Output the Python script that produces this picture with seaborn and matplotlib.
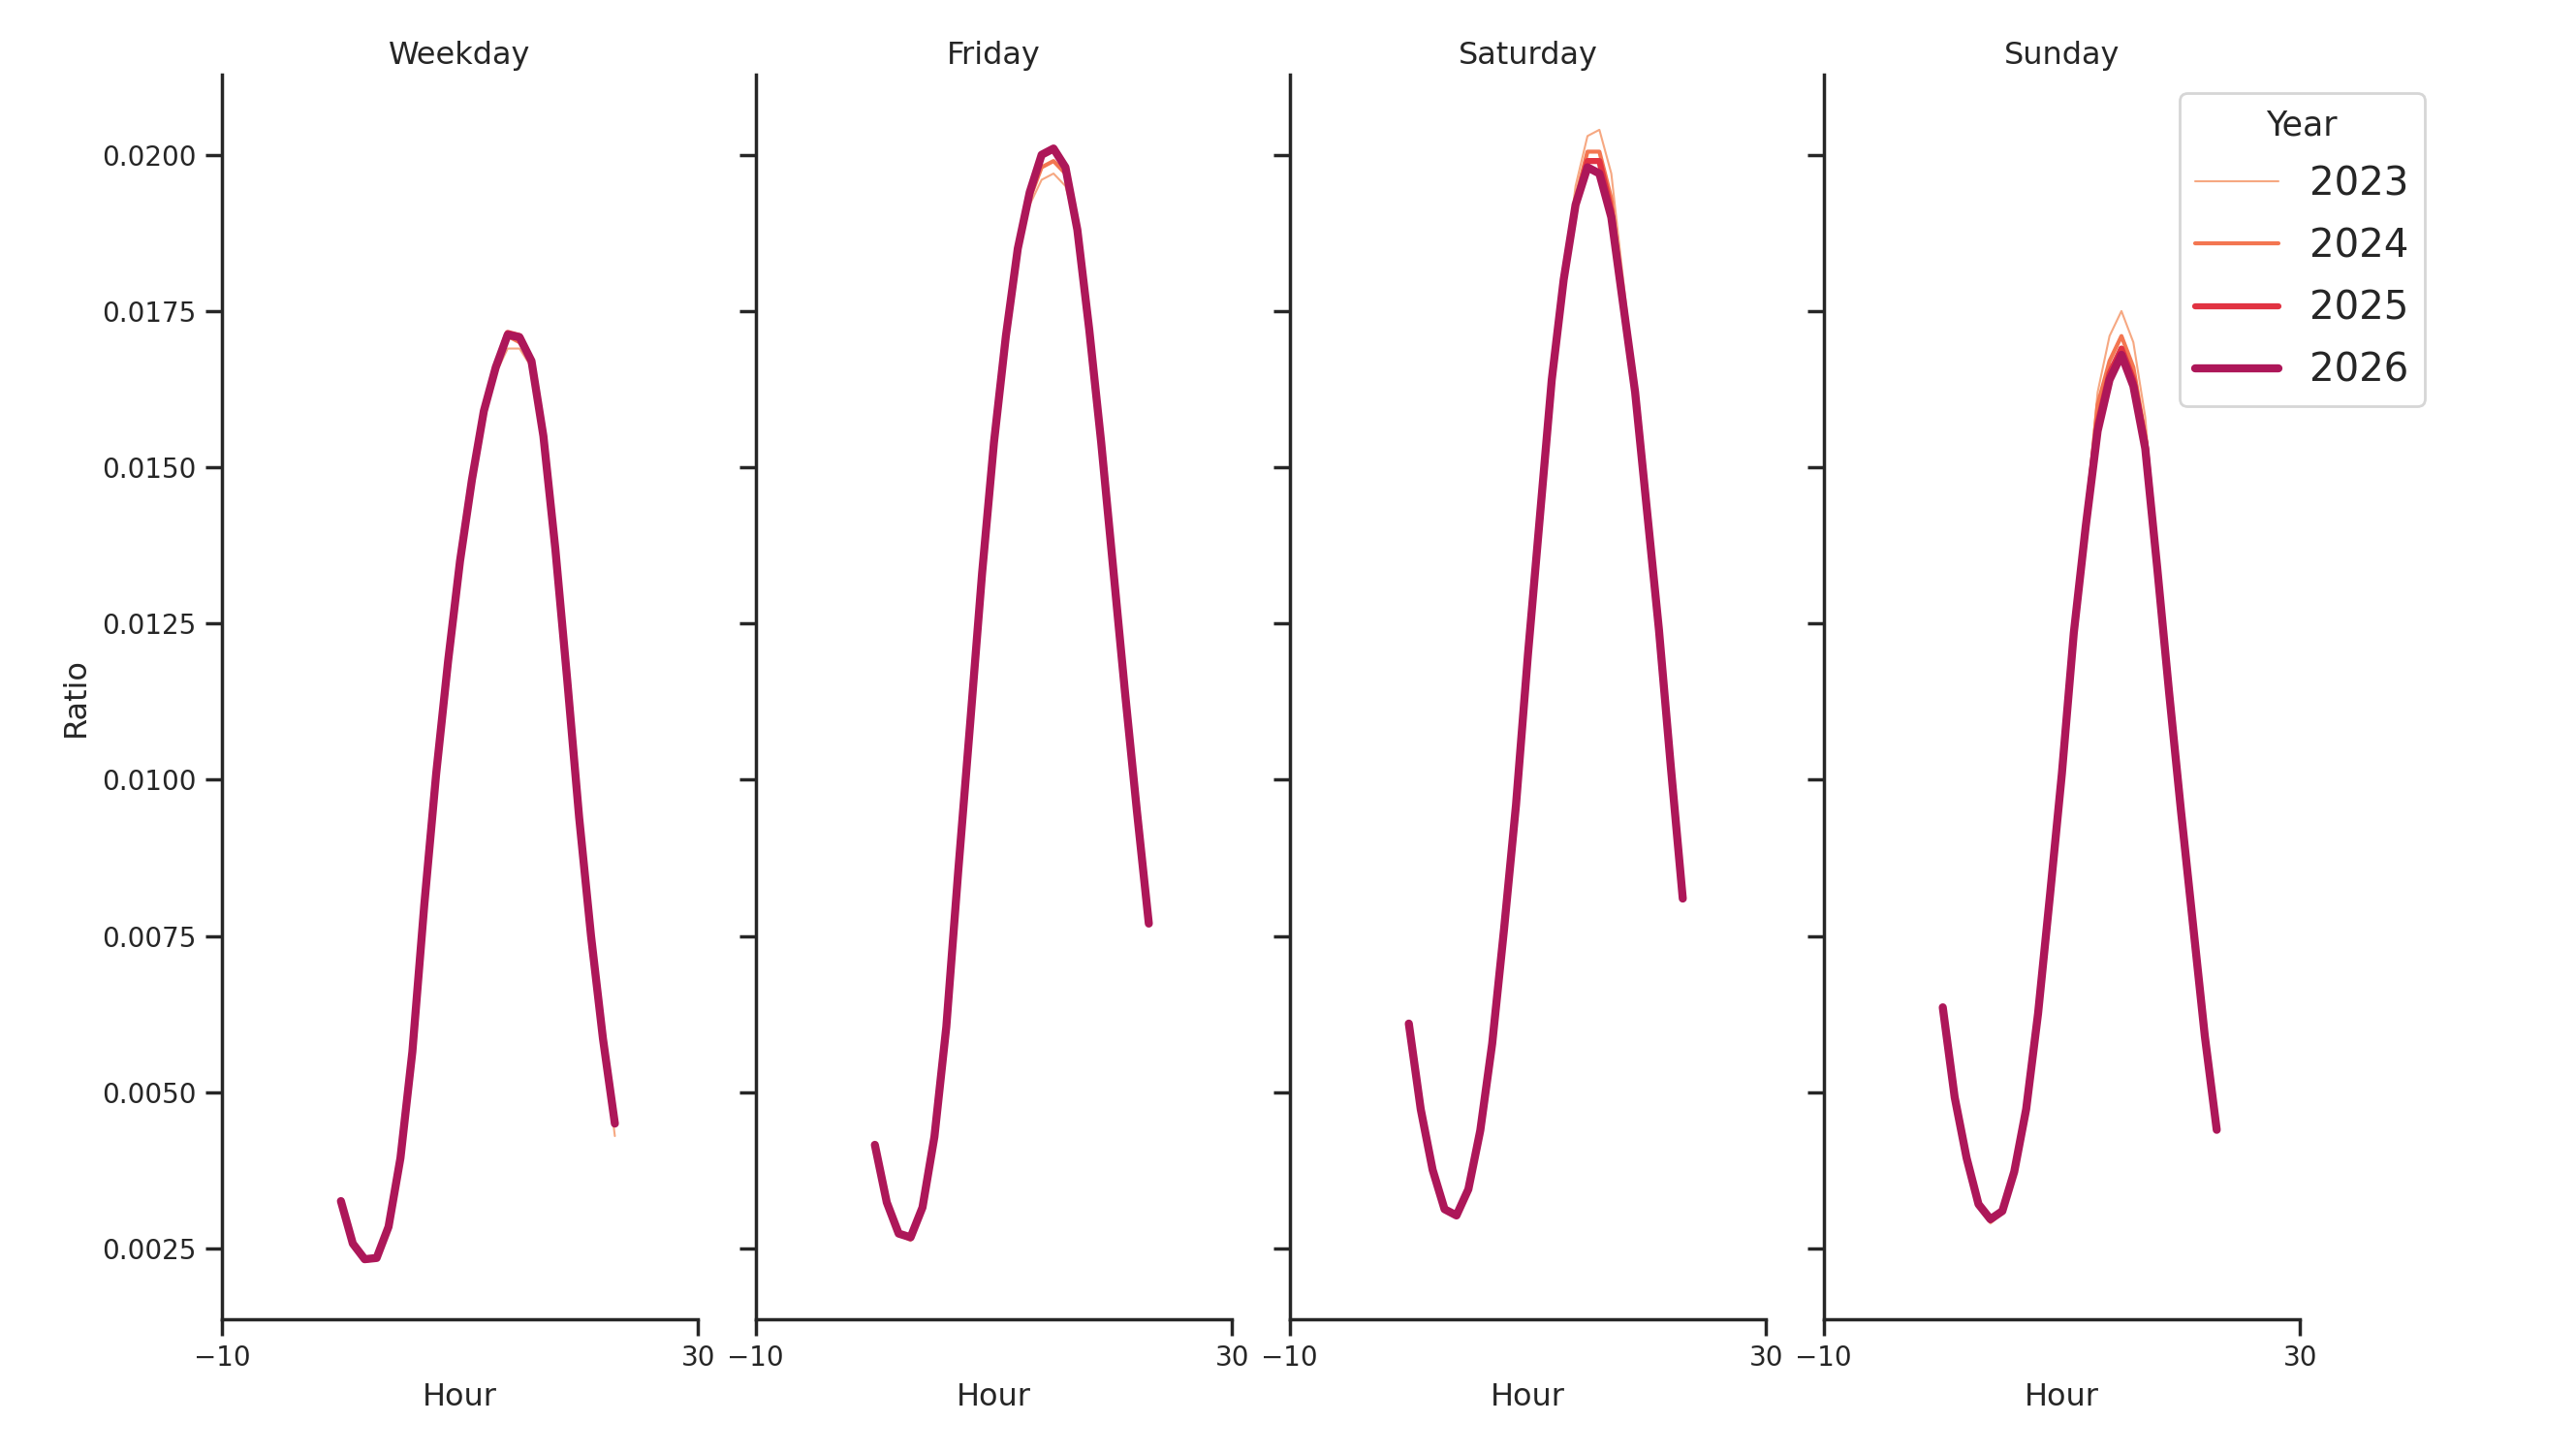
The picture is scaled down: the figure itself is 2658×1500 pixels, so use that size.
import pandas as pd
import numpy as np
import matplotlib
matplotlib.use("Agg")
import matplotlib.pyplot as plt
import seaborn as sns

sns.set_theme(style="ticks", context="notebook",
              rc={"xtick.labelsize": 10, "ytick.labelsize": 10,
                  "axes.labelsize": 11.5, "axes.titlesize": 11.5,
                  "axes.titlepad": 3.9})
plt.rcParams["font.family"] = ["DejaVu Sans"]

hours = list(range(24))
days = ["Weekday", "Friday", "Saturday", "Sunday"]
years = ["2023", "2024", "2025", "2026"]

# 每天 / 每年 的小时比例
weekday_2023 = [0.00326, 0.00258, 0.00233, 0.00235, 0.00285, 0.00395, 0.00565, 0.0080, 0.0101, 0.0119, 0.0135, 0.0148,
                0.0159, 0.0165, 0.0169, 0.0169, 0.0166, 0.0155, 0.0137, 0.0116, 0.0094, 0.0075, 0.00584, 0.0043]
weekday_2024 = [0.00326, 0.00258, 0.00233, 0.00235, 0.00285, 0.00395, 0.00565, 0.0080, 0.0101, 0.0119, 0.0135, 0.0148,
                0.0159, 0.0166, 0.0171, 0.0170, 0.0167, 0.0155, 0.0137, 0.0116, 0.0094, 0.0075, 0.00586, 0.0045]
weekday_2025 = [0.00326, 0.00258, 0.00232, 0.00235, 0.00285, 0.00395, 0.00565, 0.0080, 0.0101, 0.0119, 0.0135, 0.0148,
                0.0159, 0.0166, 0.01715, 0.0171, 0.0167, 0.0155, 0.0137, 0.0116, 0.0094, 0.0075, 0.00586, 0.0045]
weekday_2026 = [0.00326, 0.00258, 0.00233, 0.00235, 0.00285, 0.00395, 0.00565, 0.0080, 0.0101, 0.0119, 0.0135, 0.0148,
                0.0159, 0.0166, 0.01712, 0.01708, 0.0167, 0.0155, 0.0137, 0.0116, 0.0094, 0.0075, 0.00586, 0.0045]

friday_2023 = [0.00416, 0.00324, 0.00272, 0.00262, 0.00314, 0.00429, 0.00605, 0.00854, 0.0109, 0.0133, 0.0154, 0.0171,
               0.0185, 0.0192, 0.0196, 0.0197, 0.0195, 0.0188, 0.0172, 0.0154, 0.0134, 0.0114, 0.0095, 0.0077]
friday_2024 = [0.00416, 0.00324, 0.00274, 0.00266, 0.00316, 0.00429, 0.00605, 0.00854, 0.0109, 0.0133, 0.0154, 0.0171,
               0.0185, 0.0193, 0.0198, 0.0199, 0.0197, 0.0188, 0.0172, 0.0154, 0.0134, 0.0114, 0.0095, 0.0077]
friday_2025 = [0.00416, 0.00324, 0.00274, 0.00268, 0.00316, 0.00429, 0.00605, 0.00854, 0.0109, 0.0133, 0.0154, 0.0171,
               0.0185, 0.0194, 0.0200, 0.0201, 0.0198, 0.0188, 0.0172, 0.0154, 0.0134, 0.0114, 0.0095, 0.0077]
friday_2026 = [0.00416, 0.00324, 0.00274, 0.00268, 0.00316, 0.00429, 0.00605, 0.00854, 0.0109, 0.0133, 0.0154, 0.0171,
               0.0185, 0.0194, 0.0200, 0.0201, 0.0198, 0.0188, 0.0172, 0.0154, 0.0134, 0.0114, 0.0095, 0.0077]

saturday_2023 = [0.0061, 0.00473, 0.00376, 0.00313, 0.00303, 0.00345, 0.00439, 0.00578, 0.00762, 0.0096, 0.0120, 0.0142,
                 0.0164, 0.0180, 0.0195, 0.0203, 0.0204, 0.0197, 0.0180, 0.0163, 0.0143, 0.0124, 0.0102, 0.0081]
saturday_2024 = [0.0061, 0.00473, 0.00376, 0.00313, 0.00303, 0.00345, 0.00439, 0.00578, 0.00762, 0.0096, 0.0120, 0.0142,
                 0.0164, 0.0180, 0.0193, 0.02005, 0.02005, 0.0193, 0.0177, 0.0162, 0.0143, 0.0124, 0.0102, 0.0081]
saturday_2025 = [0.0061, 0.00473, 0.00376, 0.00313, 0.00303, 0.00345, 0.00439, 0.00578, 0.00762, 0.0096, 0.0120, 0.0142,
                 0.0164, 0.0180, 0.0192, 0.0199, 0.0199, 0.0191, 0.0176, 0.0162, 0.0143, 0.0124, 0.0102, 0.0081]
saturday_2026 = [0.0061, 0.00473, 0.00376, 0.00313, 0.00303, 0.00345, 0.00439, 0.00578, 0.00762, 0.0096, 0.0120, 0.0142,
                 0.0164, 0.0180, 0.0192, 0.0198, 0.0197, 0.0190, 0.0176, 0.0162, 0.0143, 0.0124, 0.0102, 0.0081]

sunday_2023 = [0.00636, 0.00492, 0.00393, 0.00318, 0.0029, 0.00306, 0.00373, 0.00473, 0.00626, 0.00815, 0.0101, 0.01235,
               0.0142, 0.0162, 0.0171, 0.0175, 0.0170, 0.0158, 0.0135, 0.0114, 0.0095, 0.0077, 0.0059, 0.0044]
sunday_2024 = [0.00636, 0.00492, 0.00395, 0.0032, 0.00294, 0.00308, 0.00373, 0.00473, 0.00626, 0.00815, 0.0101, 0.01235,
               0.0141, 0.0160, 0.0167, 0.0171, 0.0166, 0.0155, 0.0134, 0.0114, 0.0095, 0.0077, 0.0059, 0.0044]
sunday_2025 = [0.00636, 0.00492, 0.00395, 0.00321, 0.00296, 0.0031, 0.00373, 0.00473, 0.00626, 0.00815, 0.0101, 0.01235,
               0.01405, 0.0157, 0.0165, 0.0169, 0.0164, 0.0154, 0.0134, 0.0114, 0.0095, 0.0077, 0.0059, 0.0044]
sunday_2026 = [0.00636, 0.00492, 0.00395, 0.00321, 0.00297, 0.0031, 0.00373, 0.00473, 0.00626, 0.00815, 0.0101, 0.01235,
               0.01405, 0.01558, 0.0164, 0.0168, 0.0163, 0.0153, 0.0134, 0.0114, 0.0095, 0.0077, 0.0059, 0.0044]

series = {
    ("Weekday", "2023"): weekday_2023, ("Weekday", "2024"): weekday_2024,
    ("Weekday", "2025"): weekday_2025, ("Weekday", "2026"): weekday_2026,
    ("Friday", "2023"): friday_2023, ("Friday", "2024"): friday_2024,
    ("Friday", "2025"): friday_2025, ("Friday", "2026"): friday_2026,
    ("Saturday", "2023"): saturday_2023, ("Saturday", "2024"): saturday_2024,
    ("Saturday", "2025"): saturday_2025, ("Saturday", "2026"): saturday_2026,
    ("Sunday", "2023"): sunday_2023, ("Sunday", "2024"): sunday_2024,
    ("Sunday", "2025"): sunday_2025, ("Sunday", "2026"): sunday_2026,
}

rows = []
for (day, year), vals in series.items():
    for h, v in zip(hours, vals):
        rows.append({"Day": day, "Year": year, "Hour": h, "Ratio": v})
df = pd.DataFrame(rows)

palette = {"2023": "#f6a882", "2024": "#f37651", "2025": "#e13342", "2026": "#ad1759"}
sizes = {"2023": 0.75, "2024": 1.5, "2025": 2.25, "2026": 3.0}

g = sns.relplot(data=df, x="Hour", y="Ratio", col="Day", col_order=days,
                hue="Year", hue_order=years, size="Year", size_order=years,
                palette=palette, sizes=sizes, kind="line", legend="full")
g.set_titles("{col_name}")
g.set(xlim=(-10, 30), xticks=[-10, 30], ylim=(0.00137, 0.02129))
for ax in g.axes.flat:
    ax.yaxis.set_major_locator(plt.MultipleLocator(0.0025))

g.figure.set_size_inches(13.29, 7.5)
g.figure.subplots_adjust(left=0.0861, right=0.8929, bottom=0.0927, top=0.949, wspace=0.1207)

sns.move_legend(g, "upper right", bbox_to_anchor=(0.9413, 0.936), frameon=True,
                fontsize=14.5, title_fontsize=12.5, borderaxespad=0,
                labelspacing=0.6, handlelength=2.15)

g.figure.savefig("out.png", dpi=200)
